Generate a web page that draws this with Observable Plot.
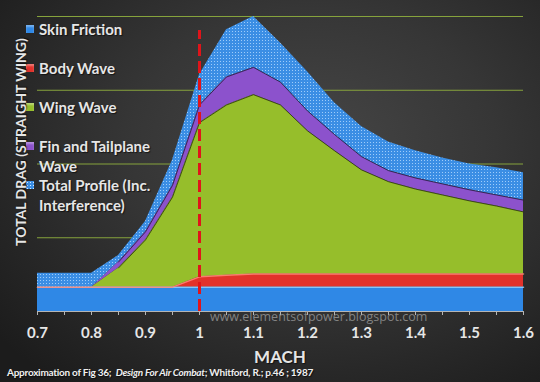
<!DOCTYPE html>
<html><head><meta charset="utf-8">
<script src="https://cdn.jsdelivr.net/npm/d3@7"></script>
<script src="https://cdn.jsdelivr.net/npm/@observablehq/plot@0.6"></script>
<style>
html,body{margin:0;padding:0;background:#222;}
#wrap{position:relative;width:540px;height:382px;overflow:hidden;
 background:radial-gradient(ellipse 75% 80% at 58% 38%, #464646 0%, #363636 45%, #1c1c1c 100%);
 font-family:"Lato","Open Sans",sans-serif;}
#chart{position:absolute;left:0;top:0;}
.t{position:absolute;color:#e6e6e6;font-weight:bold;white-space:nowrap;text-shadow:1px 1px 1px rgba(0,0,0,0.6);}
.leg{font-size:15px;line-height:20px;}
.sw{position:absolute;width:8px;height:8px;}
</style></head>
<body><div id="wrap"><div id="chart"></div></div>
<script>
const mach = [0.7,0.75,0.8,0.85,0.9,0.95,1.0,1.05,1.1,1.15,1.2,1.25,1.3,1.35,1.4,1.45,1.5,1.55,1.6];
const skinFriction     = [0.33,0.33,0.33,0.33,0.33,0.33,0.33,0.33,0.33,0.33,0.33,0.33,0.33,0.33,0.33,0.33,0.33,0.33,0.33];
const bodyWave         = [0,0,0,0,0,0,0.14,0.16,0.18,0.18,0.18,0.18,0.18,0.18,0.18,0.18,0.18,0.18,0.18];
const wingWave         = [0,0,0,0.26,0.64,1.22,2.09,2.31,2.43,2.29,1.94,1.67,1.41,1.25,1.15,1.07,0.99,0.92,0.84];
const finTailplaneWave = [0,0,0,0.08,0.11,0.16,0.24,0.38,0.37,0.31,0.27,0.22,0.18,0.15,0.15,0.15,0.15,0.15,0.16];
const totalProfile     = [0.19,0.19,0.19,0.09,0.14,0.34,0.41,0.64,0.69,0.53,0.53,0.43,0.41,0.39,0.37,0.35,0.35,0.37,0.37];
const seriesNames = ["Skin Friction","Body Wave","Wing Wave","Fin and Tailplane Wave","Total Profile (Inc. Interference)"];
const xTickLabels = [0.7,0.8,0.9,1,1.1,1.2,1.3,1.4,1.5,1.6];
const gridValues = [1,2,3,4];
const soundBarrier = [1];

const seriesValues = [skinFriction, bodyWave, wingWave, finTailplaneWave, totalProfile];
const fills = ["#2f88e6","#e2322b","#96be2b","#8c52cc","url(#dots)"];
const topStrokes = ["#8fd0ff","#ff8a7a","#2f3a10","#2a1c42",null];

// stacked layers (cumulative sums of the series above)
const layers = seriesNames.map((name, k) => mach.map((m, i) => {
  let base = 0;
  for (let j = 0; j < k; j++) base += seriesValues[j][i];
  return {mach: m, series: name, y1: base, y2: base + seriesValues[k][i]};
}));

const plot = Plot.plot({
  width: 540, height: 340,
  marginLeft: 37, marginRight: 17, marginTop: 16, marginBottom: 29,
  style: {background: "transparent", overflow: "visible"},
  x: {domain: [0.7, 1.6], axis: null},
  y: {domain: [0, 4], axis: null},
  marks: [
    Plot.ruleY(gridValues, {x1: 0.7, x2: 1.6, stroke: "#86a33c", strokeWidth: 1}),
    ...layers.map((rows, k) => Plot.areaY(rows, {x: "mach", y1: "y1", y2: "y2", fill: fills[k]})),
    ...layers.map((rows, k) => topStrokes[k] ? Plot.lineY(rows.filter(d => d.y2 > d.y1 || k < 2), {x: "mach", y: "y2",
      stroke: topStrokes[k], strokeWidth: k < 2 ? 1.5 : 1, strokeOpacity: 0.85}) : null),
    Plot.ruleY([0], {x1: 0.7, x2: 1.6, stroke: "#b5b5b5", strokeWidth: 1}),
    Plot.axisX(mach, {tickSize: 4, tickFormat: () => "", stroke: "#b5b5b5", label: null}),
    Plot.axisX(xTickLabels, {tickSize: 0, tickPadding: 16, tickFormat: d => String(d), fill: "#e6e6e6",
      fontSize: 15, fontWeight: "bold", fontFamily: "Lato, sans-serif", label: null}),
    Plot.ruleX(soundBarrier, {y1: 0, y2: 3.81, stroke: "#e0141a", strokeWidth: 3, strokeDasharray: "12,5"})
  ]
});
const defs = document.createElementNS("http://www.w3.org/2000/svg", "defs");
defs.innerHTML = '<pattern id="dots" width="3" height="3" patternUnits="userSpaceOnUse"><rect width="3" height="3" fill="#3b8ee4"/><rect x="1" y="1" width="1" height="1" fill="#b7dcff" opacity="0.8"/></pattern>';
plot.insertBefore(defs, plot.firstChild);
document.getElementById("chart").appendChild(plot);

const wrap = document.getElementById("wrap");
function addText(txt, style, cls) {
  const d = document.createElement("div");
  d.className = "t " + (cls || "");
  d.innerHTML = txt;
  Object.assign(d.style, style);
  wrap.appendChild(d);
  return d;
}
// legend
const legendRows = [
  {lines: ["Skin Friction"], y: 19, sw: "#2f88e6"},
  {lines: ["Body Wave"], y: 58, sw: "#e2322b"},
  {lines: ["Wing Wave"], y: 97, sw: "#96be2b"},
  {lines: ["Fin and Tailplane", "Wave"], y: 136, sw: "#8c52cc"},
  {lines: ["Total Profile (Inc.", "Interference)"], y: 175, sw: "dots"}
];
legendRows.forEach(r => {
  addText(r.lines.join("<br>"), {left: "39px", top: r.y + "px"}, "leg");
  const s = document.createElement("div");
  s.className = "sw";
  s.style.left = "26px"; s.style.top = (r.y + 6) + "px";
  if (r.sw === "dots") {
    s.style.background = "radial-gradient(circle, #cfe8ff 0.6px, transparent 0.8px) 0 0/3px 3px, #3b8ee4";
  } else {
    s.style.background = r.sw;
    s.style.boxShadow = "inset 0 2px 2px rgba(255,255,255,0.35)";
  }
  wrap.appendChild(s);
});
// y label
addText("TOTAL DRAG (STRAIGHT WING)", {left: "20px", top: "142px", fontSize: "14px",
  transform: "translate(-50%,-50%) rotate(-90deg)"});
// x label
addText("MACH", {left: "280px", top: "348px", fontSize: "17px", lineHeight: "17px", transform: "translateX(-50%)"});
// watermark
addText("www.elementsofpower.blogspot.com", {left: "210px", top: "311px", fontSize: "12.5px", lineHeight: "11px", fontWeight: "normal",
  color: "rgba(160,160,160,0.75)", textShadow: "none", fontFamily: "'Open Sans',sans-serif"});
// caption
addText("Approximation of Fig 36;&nbsp; <i>Design For Air Combat</i>; Whitford, R.; p.46 ; 1987",
  {left: "7px", top: "367px", fontSize: "10px", lineHeight: "11px", letterSpacing: "-0.25px", color: "#f0f0f0"});
</script></body></html>
